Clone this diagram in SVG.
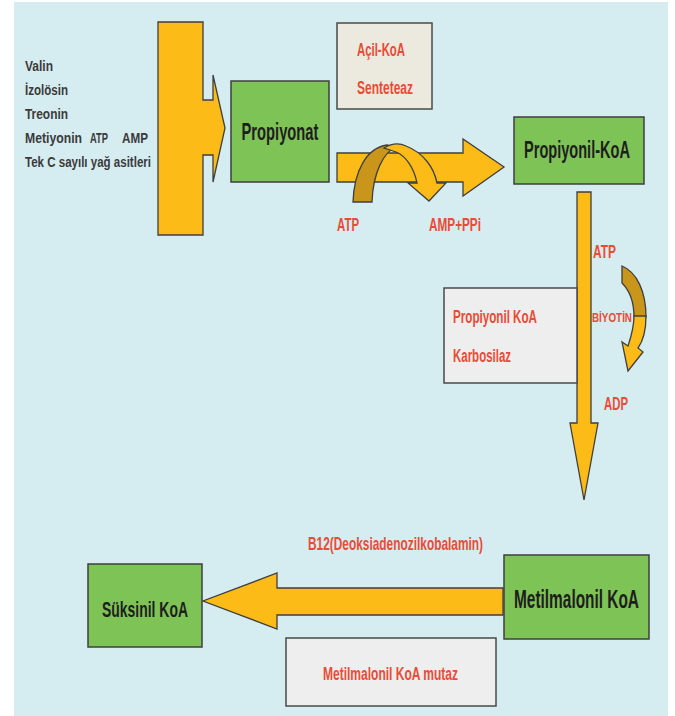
<svg xmlns="http://www.w3.org/2000/svg" width="675" height="716" viewBox="0 0 675 716">
<style>
.bg{fill:#d5ecf1}
.arrow{fill:#fcbb17;stroke:#3f3f3f;stroke-width:1.3;stroke-linejoin:miter}
.dark{fill:#c9951b;stroke:#3f3f3f;stroke-width:1.3}
.green{fill:#7ec356;stroke:#3f3f3f;stroke-width:1.5}
.grey{fill:#eeeeee;stroke:#4a4a4a;stroke-width:1.5}
.beige{fill:#ece9df;stroke:#4a4a4a;stroke-width:1.5}
.lbl{font-family:"Liberation Sans",Arial,sans-serif;fill:#1e1e1e;font-weight:bold;text-anchor:middle}
.red{font-family:"Liberation Sans",Arial,sans-serif;fill:#ea4b35;font-weight:bold;text-anchor:middle}
.left{font-family:"Liberation Sans",Arial,sans-serif;fill:#3a3a3a;font-weight:bold;font-size:14px}
</style>
<rect class="bg" x="14" y="2" width="654" height="714"/>

<g id="inputs">
<text class="left" x="25" y="71" textLength="28" lengthAdjust="spacingAndGlyphs">Valin</text>
<text class="left" x="25" y="95" textLength="43" lengthAdjust="spacingAndGlyphs">İzolösin</text>
<text class="left" x="25" y="119" textLength="43" lengthAdjust="spacingAndGlyphs">Treonin</text>
<text class="left" y="143"><tspan x="25" textLength="57" lengthAdjust="spacingAndGlyphs">Metiyonin</tspan><tspan x="90" textLength="18" lengthAdjust="spacingAndGlyphs">ATP</tspan><tspan x="122" textLength="26" lengthAdjust="spacingAndGlyphs">AMP</tspan></text>
<text class="left" x="25" y="167" textLength="126" lengthAdjust="spacingAndGlyphs">Tek C sayılı yağ asitleri</text>
</g>

<g id="connectors">
<polygon class="arrow" points="158,22 203,22 203,100 213,100 213,75 225,128 213,182 213,155 203,155 203,235 158,235"/>
<polygon class="arrow" points="337,153 463,153 463,139 504,167 463,196 463,182 337,182"/>
<path class="dark" d="M353,202 C354,172 366,148 387,145 L396,147 C384,152 373,172 372,202 Z"/>
<path class="arrow" d="M384,148 C392,143 400,143 406,146 C424,153 434,168 437,183 L446,183 L429,201 L408,183 L417,183 C414,168 406,156 396,152 Z"/>
<polygon class="arrow" points="577,192 591,192 591,423 598,423 584,500 570,423 577,423"/>
<path class="dark" d="M622,266 C637,272 646,292 646,317 L634,317 C634,300 629,290 622,283 Z"/>
<path class="arrow" d="M634,316 L646,316 C646,330 643,341 638,348 L643,352 L628,371 L622,342 L628,346 C631,337 634,327 634,316 Z"/>
<polygon class="arrow" points="503,588 277,588 277,573 203,601 277,629 277,615 503,615"/>
</g>

<g id="propiyonat">
<rect class="green" x="231" y="81" width="98" height="101"/>
<text class="lbl" transform="translate(280,140) scale(0.614,1)" font-size="24">Propiyonat</text>
</g>

<g id="acil-koa-sentetaz">
<rect class="beige" x="337" y="23" width="95" height="86"/>
<text class="red" x="381" y="56" font-size="18" textLength="48" lengthAdjust="spacingAndGlyphs">Açil-KoA</text>
<text class="red" x="385" y="94" font-size="18" textLength="56" lengthAdjust="spacingAndGlyphs">Senteteaz</text>
</g>

<g id="atp-labels">
<text class="red" x="348" y="231" font-size="19" textLength="22" lengthAdjust="spacingAndGlyphs">ATP</text>
<text class="red" x="455" y="231" font-size="19" textLength="52" lengthAdjust="spacingAndGlyphs">AMP+PPi</text>
<text class="red" x="604.5" y="258" font-size="19" textLength="23" lengthAdjust="spacingAndGlyphs">ATP</text>
<text class="red" x="612" y="322" font-size="13" textLength="40" lengthAdjust="spacingAndGlyphs">BİYOTİN</text>
<text class="red" x="616" y="410" font-size="19" textLength="24" lengthAdjust="spacingAndGlyphs">ADP</text>
</g>

<g id="propiyonil-koa">
<rect class="green" x="514" y="117" width="130" height="67"/>
<text class="lbl" transform="translate(577,158) scale(0.633,1)" font-size="23">Propiyonil-KoA</text>
</g>

<g id="karbosilaz">
<rect class="grey" x="444" y="288" width="133" height="95"/>
<text class="red" x="495" y="323" font-size="18" textLength="84" lengthAdjust="spacingAndGlyphs">Propiyonil KoA</text>
<text class="red" x="482" y="362" font-size="18" textLength="58" lengthAdjust="spacingAndGlyphs">Karbosilaz</text>
</g>

<g id="b12">
<text class="red" x="395.5" y="550" font-size="19" textLength="175" lengthAdjust="spacingAndGlyphs">B12(Deoksiadenozilkobalamin)</text>
</g>

<g id="metilmalonil-koa">
<rect class="green" x="504" y="555" width="145" height="84"/>
<text class="lbl" transform="translate(576.5,608) scale(0.593,1)" font-size="26">Metilmalonil KoA</text>
</g>

<g id="suksinil-koa">
<rect class="green" x="88" y="564" width="114" height="83"/>
<text class="lbl" transform="translate(145,617) scale(0.606,1)" font-size="23">Süksinil KoA</text>
</g>

<g id="mutaz">
<rect class="grey" x="286" y="638" width="210" height="68"/>
<text class="red" x="390.5" y="680" font-size="18" textLength="135" lengthAdjust="spacingAndGlyphs">Metilmalonil KoA mutaz</text>
</g>
</svg>
